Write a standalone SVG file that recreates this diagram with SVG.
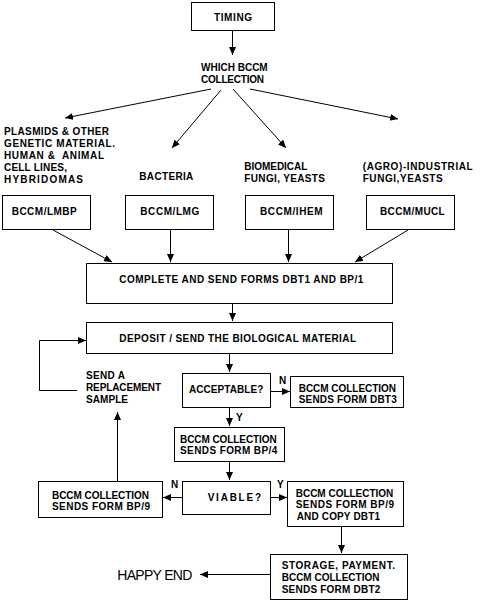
<svg xmlns="http://www.w3.org/2000/svg" width="485" height="602" viewBox="0 0 485 602">
<style>
.b{fill:#fff;stroke:#000;stroke-width:1}
.t{font-family:"Liberation Sans",Arial,sans-serif;font-size:10px;font-weight:bold;fill:#000}
.h{font-family:"Liberation Sans",Arial,sans-serif;font-size:14px;fill:#000}
.c{fill:none;stroke:#000;stroke-width:1}
</style>
<defs>
<marker id="a" markerUnits="userSpaceOnUse" markerWidth="9" markerHeight="8" refX="8" refY="3.5" orient="auto">
<path d="M0,0 L8,3.5 L0,7 z" fill="#000"/>
</marker>
</defs>
<rect width="485" height="602" fill="#fff"/>
<g id="connectors">
<line class="c" x1="232.5" y1="30" x2="232.5" y2="55" marker-end="url(#a)"/>
<line class="c" x1="211" y1="89" x2="65" y2="118" marker-end="url(#a)"/>
<line class="c" x1="221" y1="90" x2="172" y2="148" marker-end="url(#a)"/>
<line class="c" x1="233" y1="89" x2="286" y2="148" marker-end="url(#a)"/>
<line class="c" x1="250" y1="89" x2="398" y2="119" marker-end="url(#a)"/>
<line class="c" x1="53" y1="230" x2="112" y2="262" marker-end="url(#a)"/>
<line class="c" x1="170.5" y1="229" x2="170.5" y2="262" marker-end="url(#a)"/>
<line class="c" x1="288.5" y1="229" x2="288.5" y2="262" marker-end="url(#a)"/>
<line class="c" x1="408" y1="230" x2="355" y2="262" marker-end="url(#a)"/>
<line class="c" x1="232.5" y1="303" x2="232.5" y2="321" marker-end="url(#a)"/>
<line class="c" x1="229.5" y1="353" x2="229.5" y2="372" marker-end="url(#a)"/>
<polyline class="c" points="77,390.5 39.5,390.5 39.5,340.5 86,340.5" marker-end="url(#a)"/>
<line class="c" x1="270" y1="391.5" x2="290" y2="391.5" marker-end="url(#a)"/>
<line class="c" x1="229.5" y1="407" x2="229.5" y2="426" marker-end="url(#a)"/>
<line class="c" x1="229.5" y1="461" x2="229.5" y2="480" marker-end="url(#a)"/>
<line class="c" x1="182" y1="497.5" x2="163" y2="497.5" marker-end="url(#a)"/>
<line class="c" x1="117.5" y1="481" x2="117.5" y2="412" marker-end="url(#a)"/>
<line class="c" x1="270" y1="497.5" x2="287" y2="497.5" marker-end="url(#a)"/>
<line class="c" x1="341.5" y1="526" x2="341.5" y2="553" marker-end="url(#a)"/>
<line class="c" x1="270" y1="574.5" x2="200" y2="574.5" marker-end="url(#a)"/>
</g>
<g id="timing">
<rect class="b" x="191.5" y="2.5" width="83" height="28"/>
<text class="t" x="214" y="21" textLength="38">TIMING</text>
</g>
<g id="which">
<text class="t" x="201" y="71" textLength="66.7">WHICH BCCM</text>
<text class="t" x="201" y="83" textLength="63">COLLECTION</text>
</g>
<g id="label-plasmids">
<text class="t" x="4" y="135" textLength="105">PLASMIDS &amp; OTHER</text>
<text class="t" x="4" y="147" textLength="111">GENETIC MATERIAL.</text>
<text class="t" x="4" y="159" textLength="100" xml:space="preserve">HUMAN &amp;  ANIMAL</text>
<text class="t" x="4" y="171" textLength="63">CELL LINES,</text>
<text class="t" x="4" y="183" textLength="79">HYBRIDOMAS</text>
</g>
<g id="label-bacteria">
<text class="t" x="139.3" y="179.5" textLength="54">BACTERIA</text>
</g>
<g id="label-biomedical">
<text class="t" x="244.3" y="169.5" textLength="63">BIOMEDICAL</text>
<text class="t" x="244.3" y="181.5" textLength="80.7">FUNGI, YEASTS</text>
</g>
<g id="label-industrial">
<text class="t" x="362.7" y="169.5" textLength="110">(AGRO)-INDUSTRIAL</text>
<text class="t" x="362.7" y="181.5" textLength="80">FUNGI,YEASTS</text>
</g>
<g id="lmbp">
<rect class="b" x="2.5" y="195.5" width="88" height="34"/>
<text class="t" x="11.7" y="214.5" textLength="65">BCCM/LMBP</text>
</g>
<g id="lmg">
<rect class="b" x="125.5" y="195.5" width="88" height="34"/>
<text class="t" x="140.3" y="214.5" textLength="59">BCCM/LMG</text>
</g>
<g id="ihem">
<rect class="b" x="245.5" y="195.5" width="88" height="34"/>
<text class="t" x="260" y="214.5" textLength="62.7">BCCM/IHEM</text>
</g>
<g id="mucl">
<rect class="b" x="366.5" y="195.5" width="88" height="34"/>
<text class="t" x="380" y="214.5" textLength="64.7">BCCM/MUCL</text>
</g>
<g id="complete">
<rect class="b" x="86.5" y="263.5" width="306" height="40"/>
<text class="t" x="119.3" y="282.5" textLength="244">COMPLETE AND SEND FORMS DBT1 AND BP/1</text>
</g>
<g id="deposit">
<rect class="b" x="86.5" y="322.5" width="306" height="31"/>
<text class="t" x="119.3" y="341.5" textLength="236.7">DEPOSIT / SEND THE BIOLOGICAL MATERIAL</text>
</g>
<g id="replacement">
<text class="t" x="86" y="378.5" textLength="39">SEND A</text>
<text class="t" x="86" y="390.5" textLength="75">REPLACEMENT</text>
<text class="t" x="86" y="402.5" textLength="42">SAMPLE</text>
</g>
<g id="acceptable">
<rect class="b" x="182.5" y="373.5" width="88" height="34"/>
<text class="t" x="189" y="392.5" textLength="74.3">ACCEPTABLE?</text>
</g>
<g id="labels-yn">
<text class="t" x="279" y="384" font-size="11">N</text>
<text class="t" x="236" y="421" font-size="11">Y</text>
<text class="t" x="171" y="488" font-size="11">N</text>
<text class="t" x="277" y="488" font-size="11">Y</text>
</g>
<g id="dbt3">
<rect class="b" x="290.5" y="376.5" width="113" height="31"/>
<text class="t" x="298.7" y="391.5" textLength="97.3">BCCM COLLECTION</text>
<text class="t" x="298.7" y="403" textLength="98">SENDS FORM DBT3</text>
</g>
<g id="bp4">
<rect class="b" x="174.5" y="427.5" width="110" height="34"/>
<text class="t" x="180" y="442.5" textLength="96.7">BCCM COLLECTION</text>
<text class="t" x="180" y="454" textLength="97.3">SENDS FORM BP/4</text>
</g>
<g id="viable">
<rect class="b" x="182.5" y="481.5" width="88" height="33"/>
<text class="t" x="207.7" y="500.5" textLength="53.3">VIABLE?</text>
</g>
<g id="bp9-left">
<rect class="b" x="38.5" y="481.5" width="124" height="36"/>
<text class="t" x="52" y="498.5" textLength="97">BCCM COLLECTION</text>
<text class="t" x="52" y="510" textLength="98">SENDS FORM BP/9</text>
</g>
<g id="bp9-right">
<rect class="b" x="287.5" y="481.5" width="116" height="45"/>
<text class="t" x="295.7" y="496.5" textLength="97.6">BCCM COLLECTION</text>
<text class="t" x="295.7" y="508" textLength="98.3">SENDS FORM BP/9</text>
<text class="t" x="296.7" y="519.5" textLength="83.3">AND COPY DBT1</text>
</g>
<g id="storage">
<rect class="b" x="270.5" y="554.5" width="137" height="45"/>
<text class="t" x="281.7" y="568.5" textLength="113.3">STORAGE, PAYMENT.</text>
<text class="t" x="281.7" y="580.5" textLength="97.7">BCCM COLLECTION</text>
<text class="t" x="281.7" y="592.5" textLength="98.7">SENDS FORM DBT2</text>
</g>
<g id="happy-end">
<text class="h" x="117.3" y="579.5" textLength="75">HAPPY END</text>
</g>
</svg>
